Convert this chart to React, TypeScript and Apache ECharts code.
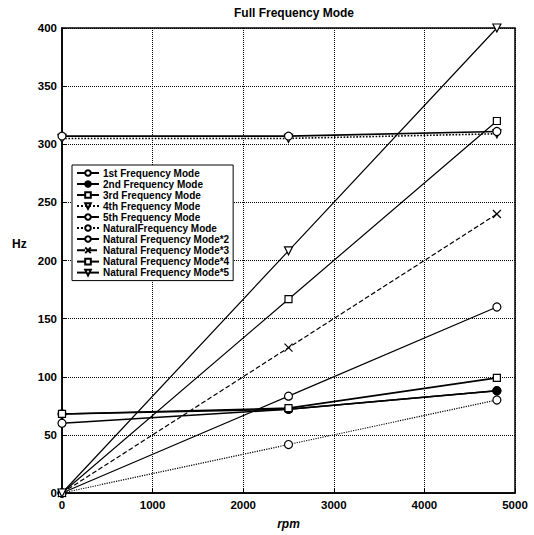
import React, { useEffect, useRef } from "react";
import * as echarts from "echarts";

const rpm = [0, 2500, 4800];
const mode1 = [60, 72, 88];
const mode2 = [68, 72, 88];
const mode3 = [68, 73, 99];
const mode4 = [305, 305, 309];
const mode5 = [307, 307, 311];
const natural1 = [0, 41.7, 80];
const natural2 = [0, 83.3, 160];
const natural3 = [0, 125, 240];
const natural4 = [0, 166.7, 320];
const natural5 = [0, 208.3, 400];

const names = [
  "1st Frequency Mode",
  "2nd Frequency Mode",
  "3rd Frequency Mode",
  "4th Frequency Mode",
  "5th Frequency Mode",
  "NaturalFrequency Mode",
  "Natural Frequency Mode*2",
  "Natural Frequency Mode*3",
  "Natural Frequency Mode*4",
  "Natural Frequency Mode*5",
];

const xTicks = [0, 1000, 2000, 3000, 4000, 5000];

const CROSS = "path://M0,0L10,10M10,0L0,10";
const PLUS = "path://M5,0L5,10M0,5L10,5";

export default function App() {
  const ref = useRef<HTMLDivElement>(null);
  useEffect(() => {
    if (!ref.current) return;
    const chart = echarts.init(ref.current, null, { renderer: "svg" });
    const font = "'Liberation Sans', Arial, Helvetica, sans-serif";
    const values = [mode1, mode2, mode3, mode4, mode5, natural1, natural2, natural3, natural4, natural5];
    const symbols = ["circle", "circle", "rect", "triangle", "circle", "circle", "circle", CROSS, "rect", "triangle"];
    const rot = [0, 0, 0, 180, 0, 0, 0, 0, 0, 180];
    const filled = [false, true, false, false, false, false, false, false, false, false];
    const lineTypes: any[] = ["solid", "solid", "solid", "dotted", "solid", "dotted", "solid", "dashed", "solid", "solid"];
    const series = names.map((n, i) => ({
      name: n,
      type: "line",
      data: rpm.map((r, j) => [r, values[i][j]]),
      symbol: symbols[i],
      symbolRotate: rot[i],
      symbolSize: symbols[i] === "rect" ? 7 : 8,
      showAllSymbol: true,
      lineStyle: { color: "#000", width: i < 5 ? 1.6 : 1.2, type: lineTypes[i] },
      itemStyle: {
        color: filled[i] ? "#000" : symbols[i] === CROSS || symbols[i] === PLUS ? "none" : "#fff",
        borderColor: "#000",
        borderWidth: 1.2,
      },
      z: 3,
    }));
    chart.setOption({
      animation: false,
      backgroundColor: "#fff",
      title: {
        text: "Full Frequency Mode",
        left: 289,
        textAlign: "center",
        top: 2,
        textStyle: { fontFamily: font, fontSize: 12, fontWeight: "bold", color: "#000" },
      },
      grid: { left: 62, right: 19, top: 28, bottom: 39, show: true, borderColor: "#000", borderWidth: 1.5 },
      legend: {
        orient: "vertical",
        left: 72,
        top: 165,
        data: names,
        backgroundColor: "#fff",
        borderColor: "#000",
        borderWidth: 1,
        padding: [3, 4, 3, 4],
        itemGap: 1,
        itemWidth: 22,
        itemHeight: 7,
        textStyle: {
          fontFamily: font,
          fontSize: 10,
          lineHeight: 9,
          fontWeight: "bold",
          color: "#000",
          padding: [0, 0, 0, -1],
        },
      },
      graphic: [
        {
          type: "text",
          left: 12,
          top: 238,
          style: { text: "Hz", fontFamily: font, fontSize: 12, fontWeight: "bold", fill: "#000" },
        },
      ],
      xAxis: {
        type: "value",
        min: 0,
        max: 5000,
        interval: 1000,
        name: "rpm",
        nameLocation: "middle",
        nameGap: 25,
        nameTextStyle: { fontFamily: font, fontSize: 12, fontStyle: "italic", fontWeight: "bold", color: "#000" },
        axisLine: { show: true, lineStyle: { color: "#000", width: 1.5 } },
        axisTick: { show: true, inside: true, length: 5, lineStyle: { color: "#000" } },
        axisLabel: {
          fontFamily: font,
          fontSize: 11.5,
          fontWeight: "bold",
          color: "#000",
          margin: 6,
          formatter: (v: number) => (xTicks.includes(v) ? String(v) : ""),
        },
        splitLine: { show: true, lineStyle: { color: "#000", type: "dotted", width: 1 } },
      },
      yAxis: {
        type: "value",
        min: 0,
        max: 400,
        interval: 50,
        axisLine: { show: true, lineStyle: { color: "#000", width: 1.5 } },
        axisTick: { show: true, inside: true, length: 5, lineStyle: { color: "#000" } },
        axisLabel: { fontFamily: font, fontSize: 11.5, fontWeight: "bold", color: "#000", margin: 5 },
        splitLine: { show: true, lineStyle: { color: "#000", type: "dotted", width: 1 } },
      },
      series,
    });
    return () => chart.dispose();
  }, []);
  return (
    <div
      ref={ref}
      style={{ position: "fixed", left: 0, top: 0, width: 534, height: 535, background: "#fff" }}
    />
  );
}
